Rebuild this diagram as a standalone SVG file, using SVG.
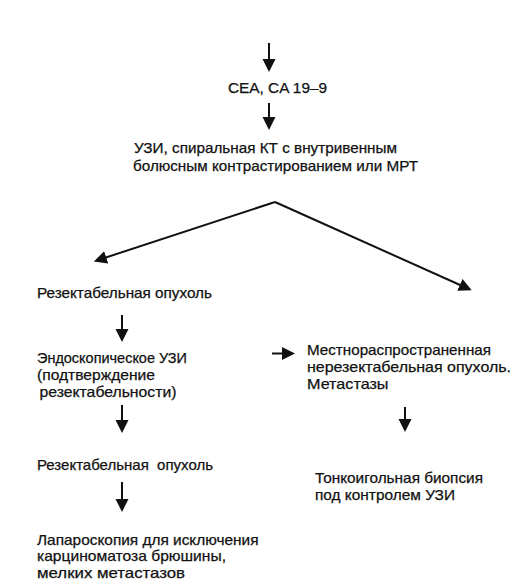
<svg xmlns="http://www.w3.org/2000/svg" width="531" height="584" viewBox="0 0 531 584">
<style>
text{font-family:"Liberation Sans",Arial,sans-serif;font-size:14.5px;fill:#111;stroke:#111;stroke-width:0.25}
.c{stroke:#111;stroke-width:2;fill:none;marker-end:url(#ah)}
</style>
<defs>
<marker id="ah" markerUnits="userSpaceOnUse" markerWidth="14" markerHeight="14" refX="10" refY="6.5" orient="auto">
<path d="M0,0 L13,6.5 L0,13 Z" fill="#111"/>
</marker>
</defs>
<rect width="531" height="584" fill="#fff"/>
<g id="connectors">
<line class="c" x1="269" y1="43" x2="269" y2="69"/>
<line class="c" x1="269" y1="103" x2="269" y2="127"/>
<line class="c" x1="275" y1="202" x2="469" y2="289"/>
<line class="c" x1="275" y1="202" x2="96.7" y2="260.5"/>
<line class="c" x1="122" y1="315" x2="122" y2="339"/>
<line class="c" x1="122" y1="405" x2="122" y2="430"/>
<line class="c" x1="272" y1="353.5" x2="292" y2="353.5"/>
<line class="c" x1="405" y1="407" x2="405" y2="429"/>
<line class="c" x1="122" y1="482" x2="122" y2="509"/>
</g>
<g id="n1"><text x="228" y="93" textLength="99" lengthAdjust="spacingAndGlyphs">CEA, CA 19–9</text></g>
<g id="n2">
<text x="134" y="153" textLength="263" lengthAdjust="spacingAndGlyphs">УЗИ, спиральная КТ с внутривенным</text>
<text x="133" y="170.5" textLength="285" lengthAdjust="spacingAndGlyphs">болюсным контрастированием или МРТ</text>
</g>
<g id="n3"><text x="37" y="298" textLength="175" lengthAdjust="spacingAndGlyphs">Резектабельная опухоль</text></g>
<g id="n4">
<text x="37" y="363" textLength="150" lengthAdjust="spacingAndGlyphs">Эндоскопическое УЗИ</text>
<text x="37" y="380" textLength="118" lengthAdjust="spacingAndGlyphs">(подтверждение</text>
<text x="39.5" y="397" textLength="137" lengthAdjust="spacingAndGlyphs">резектабельности)</text>
</g>
<g id="n5">
<text x="307" y="355" textLength="184" lengthAdjust="spacingAndGlyphs">Местнораспространенная</text>
<text x="307" y="372" textLength="204" lengthAdjust="spacingAndGlyphs">нерезектабельная опухоль.</text>
<text x="307" y="389" textLength="81.5" lengthAdjust="spacingAndGlyphs">Метастазы</text>
</g>
<g id="n6"><text x="37" y="470" textLength="176" lengthAdjust="spacingAndGlyphs" xml:space="preserve">Резектабельная  опухоль</text></g>
<g id="n7">
<text x="37" y="544.5" textLength="221.5" lengthAdjust="spacingAndGlyphs">Лапароскопия для исключения</text>
<text x="37" y="561" textLength="189" lengthAdjust="spacingAndGlyphs">карциноматоза брюшины,</text>
<text x="37" y="577.5" textLength="148" lengthAdjust="spacingAndGlyphs">мелких метастазов</text>
</g>
<g id="n8">
<text x="315" y="483" textLength="168" lengthAdjust="spacingAndGlyphs">Тонкоигольная биопсия</text>
<text x="315" y="500" textLength="140" lengthAdjust="spacingAndGlyphs">под контролем УЗИ</text>
</g>
</svg>
